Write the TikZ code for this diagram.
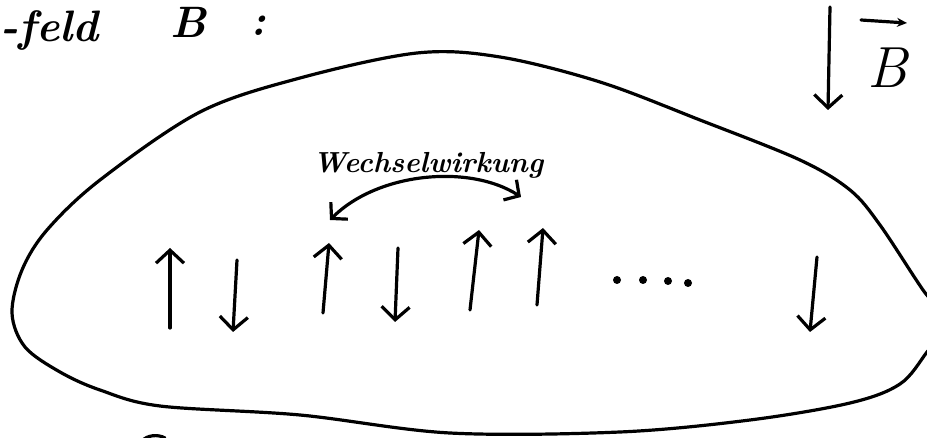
\documentclass[tikz,border=0pt]{standalone}
\usetikzlibrary{arrows.meta}
\begin{document}
\begin{tikzpicture}[x=1pt,y=-1pt, line cap=round, line join=round,
  stroke/.style={line width=3.2pt},
  spin/.style={line width=3.2pt, -{Straight Barb[length=13pt,width=28pt]}},
  both/.style={line width=3.2pt, {Straight Barb[length=11pt,width=24pt]}-{Straight Barb[length=11pt,width=24pt]}},
  hand/.style={inner sep=0pt, font=\fontsize{44}{46}\selectfont\bfseries\itshape},
  small/.style={inner sep=0pt, font=\fontsize{29}{32}\selectfont\bfseries\itshape}]
\useasboundingbox (0,0) rectangle (927,438);
\clip (0,0) rectangle (927,438);

% heading
\node[hand, anchor=base west] (title) at (0,42) {-feld};
\node[hand, anchor=base] (calB) at (188,38) {B};
\node[hand, anchor=base] (colon) at (258,36) {:};

% external field
\coordinate (Btop) at (830,7);
\coordinate (Bbot) at (828,110);
\draw[spin] (Btop) -- (Bbot);
\node[inner sep=0pt, font=\fontsize{58}{60}\selectfont\itshape, anchor=base] (Bvec) at (887,88) {B};
\coordinate (va) at (861,20);
\coordinate (vb) at (907,23);
\draw[line width=3.2pt, -{Stealth[length=10pt,width=9pt,open]}] (va) -- (vb);

% outline of the body
\draw[stroke] plot[smooth cycle, tension=0.55] coordinates {
  (417,53) (500,57) (600,82) (700,120) (800,160) (850,190) (880,225) (923,290)
  (948,322) (927,352) (900,384) (850,403) (750,420) (620,432) (450,433)
  (300,415) (160,406) (100,390) (60,372) (25,347) (12,313) (22,270)
  (47,230) (100,180) (200,112) (300,78)};

% interaction
\node[small, anchor=base] (ww) at (428,173) {Wechselwirkung};
\coordinate (wl) at (330,220);
\coordinate (wr) at (521,197);
\draw[both] (wl) .. controls (378,172) and (470,164) .. (wr);

% spins
\draw[spin] (170,328) -- (170,248);
\draw[spin] (237,260) -- (233,332);
\draw[spin] (323,313) -- (329,243);
\draw[spin] (398,248) -- (395,322);
\draw[spin] (470,310) -- (479,230);
\draw[spin] (537,305) -- (543,228);
\fill (617,280) circle (4pt);
\fill (643,280) circle (4pt);
\fill (668,281) circle (4pt);
\fill (688,283) circle (4pt);
\draw[spin] (817,257) -- (810,332);

% cut-off letter at the bottom
\draw[stroke] (142,441) .. controls (147,435) and (158,434) .. (165,438);
\end{tikzpicture}
\end{document}
